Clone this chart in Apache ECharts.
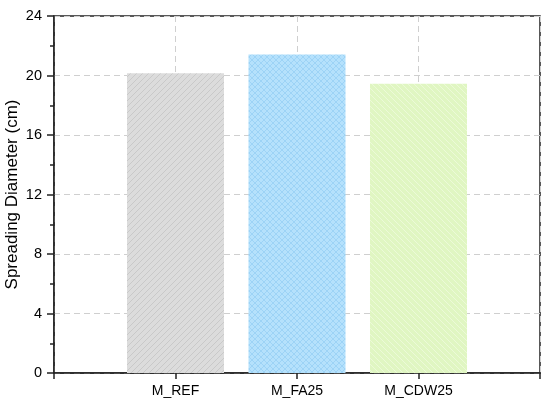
<!DOCTYPE html>
<html>
<head>
<meta charset="utf-8">
<script src="https://cdn.jsdelivr.net/npm/echarts@6/dist/echarts.min.js"></script>
<style>
  html, body { margin: 0; padding: 0; background: #fff; }
  #chart { width: 550px; height: 407px; }
</style>
</head>
<body>
<div id="chart"></div>
<script>
// categories (empty slots at both ends keep the axis span like the original)
const categories = ['', 'M_REF', 'M_FA25', 'M_CDW25', ''];
const diameters = [null, 20.15, 21.42, 19.45, null];
const yTicks = { min: 0, max: 24, interval: 4 };

// small tile used as a hatch fill
function hatch(base, line, dirs) {
  const s = 6;
  const c = document.createElement('canvas');
  c.width = s; c.height = s;
  const g = c.getContext('2d');
  g.fillStyle = base;
  g.fillRect(0, 0, s, s);
  g.strokeStyle = line;
  g.lineWidth = 1;
  dirs.forEach(d => {
    for (let k = -1; k <= 1; k++) {
      g.beginPath();
      if (d === '/') {
        g.moveTo(k * s, s); g.lineTo(k * s + s, 0);
      } else {
        g.moveTo(k * s, 0); g.lineTo(k * s + s, s);
      }
      g.stroke();
    }
  });
  return { image: c, repeat: 'repeat' };
}

const fills = [
  null,
  hatch('#dcdcdc', '#c9c9c9', ['/']),
  hatch('#b5e1fc', '#9dd3f6', ['/', '\\']),
  hatch('#e0f6c2', '#ecfad8', ['\\']),
  null
];

const chart = echarts.init(document.getElementById('chart'));
const font = '"Liberation Sans", Arial, sans-serif';

chart.setOption({
  animation: false,
  grid: {
    left: 54, right: 10, top: 16, bottom: 34,
    outerBoundsMode: 'none',
    containLabel: false,
    show: true,
    borderColor: '#222',
    borderWidth: 1.5
  },
  xAxis: {
    type: 'category',
    data: categories,
    boundaryGap: false,
    axisLine: { lineStyle: { color: '#222', width: 1.5 } },
    axisTick: { show: true, length: 6, lineStyle: { color: '#222', width: 1.5 } },
    axisLabel: { color: '#000', fontSize: 14, fontFamily: font, margin: 11 },
    splitLine: { show: true, lineStyle: { color: '#cfcfcf', type: [6, 4], width: 1 } }
  },
  yAxis: {
    type: 'value',
    min: yTicks.min,
    max: yTicks.max,
    interval: yTicks.interval,
    name: 'Spreading Diameter (cm)',
    nameLocation: 'middle',
    nameGap: 33,
    nameMoveOverlap: false,
    nameTextStyle: { color: '#000', fontSize: 17, fontFamily: font },
    axisLine: { show: true, lineStyle: { color: '#222', width: 1.5 } },
    axisTick: { show: true, length: 7, lineStyle: { color: '#222', width: 1.5 } },
    minorTick: { show: true, splitNumber: 2, length: 4, lineStyle: { color: '#222', width: 1.5 } },
    axisLabel: { color: '#000', fontSize: 14.5, fontFamily: font, margin: 12 },
    splitLine: { show: true, lineStyle: { color: '#cfcfcf', type: [6, 4], width: 1 } }
  },
  series: [{
    type: 'bar',
    barWidth: 97,
    data: diameters.map((v, i) => ({
      value: v,
      itemStyle: { color: fills[i] || '#ccc' }
    }))
  }]
});
</script>
</body>
</html>
